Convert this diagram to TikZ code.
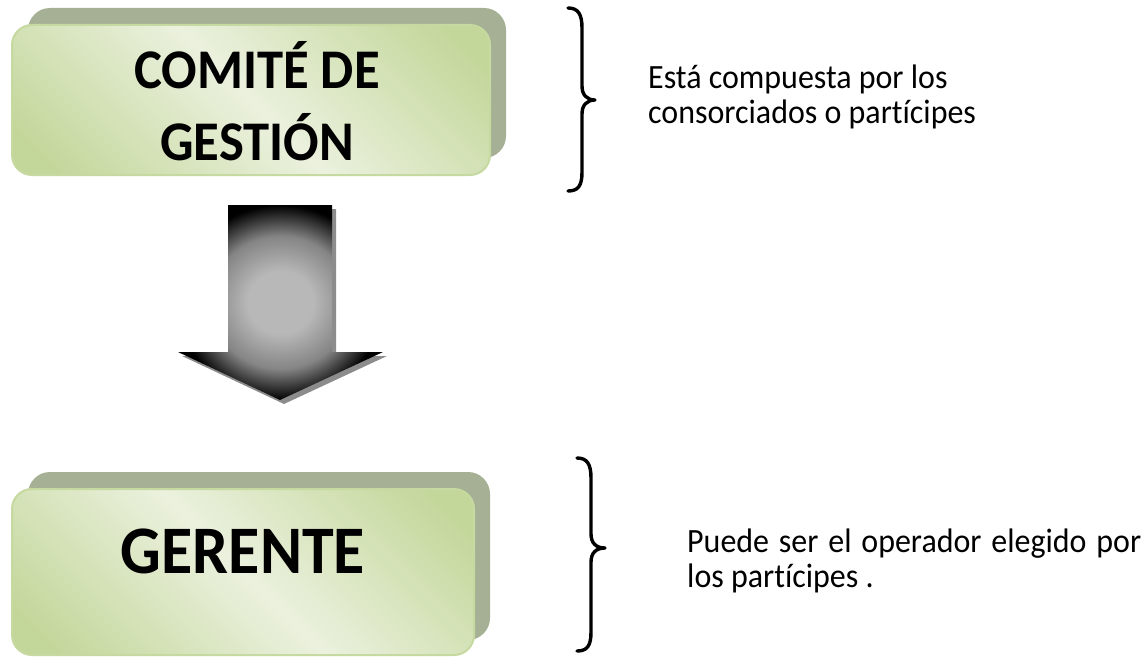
\documentclass[tikz,border=0pt]{standalone}
\usepackage{fontspec}
\setmainfont{Carlito}[RawFeature={-liga}, FakeStretch=0.94]
\definecolor{mossL}{HTML}{EBF1DE}
\definecolor{mossD}{HTML}{C4D79B}
\definecolor{boxShadow}{HTML}{A6B094}
\definecolor{boxEdge}{HTML}{C6D9A0}
\definecolor{arrC}{HTML}{B8B8B8}
\definecolor{arrM}{HTML}{858585}
\definecolor{arrShadow}{HTML}{8C8C8C}
\pgfdeclarehorizontalshading{moss}{100bp}{color(0bp)=(mossD); color(20bp)=(mossD); color(50bp)=(mossL); color(80bp)=(mossD); color(100bp)=(mossD)}
\pgfdeclareradialshading{arrowshade}{\pgfpoint{0bp}{0bp}}{color(0bp)=(arrC); color(8bp)=(arrC); color(17bp)=(arrM); color(25bp)=(black); color(50bp)=(black)}
\tikzset{
  backbox/.style={rectangle, rounded corners=22pt, fill=boxShadow, draw=none, inner sep=0pt},
  frontbox/.style={rectangle, rounded corners=20pt, draw=boxEdge, line width=2pt, shade, shading=moss, shading angle=45, inner sep=0pt},
  title/.style={inner sep=0pt, align=center},
  note/.style={inner sep=0pt, align=left},
  bracepath/.style={line width=3.4pt, line cap=round, line join=round},
}
\begin{document}
\begin{tikzpicture}[x=1pt,y=-1pt]
\useasboundingbox (0,0) rectangle (1147,658);
% top box
\node[backbox, minimum width=478pt, minimum height=150pt] (comiteBack) at (267,83) {};
\node[frontbox, minimum width=478pt, minimum height=150pt] (comite) at (251,100) {};
\node[title, font=\bfseries\fontsize{56}{72}\selectfont, anchor=base] (comiteText) at (257,160) {COMITÉ DE\\GESTIÓN};
% bottom box
\node[backbox, minimum width=462pt, minimum height=168pt] (gerenteBack) at (259,556) {};
\node[frontbox, minimum width=462pt, minimum height=166pt] (gerente) at (243,572) {};
\node[title, font=\bfseries\fontsize{68}{77}\selectfont, anchor=base] (gerenteText) at (243,573) {GERENTE};
% arrow
\fill[arrShadow] (232,209) -- (336,209) -- (336,356) -- (387,356) -- (284,404) -- (182,356) -- (232,356) -- cycle;
\shade[shading=arrowshade] (228,205) -- (332,205) -- (332,352) -- (383,352) -- (280,400) -- (178,352) -- (228,352) -- cycle;
% braces
\draw[bracepath] (568,8) .. controls (578,8) and (582,14) .. (582,28) -- (582,86) .. controls (582,95) and (587,100) .. (595,100) .. controls (587,100) and (582,105) .. (582,114) -- (582,172) .. controls (582,186) and (578,191) .. (568,191);
\draw[bracepath] (577,458) .. controls (587,458) and (591,464) .. (591,478) -- (591,534) .. controls (591,543) and (596,548) .. (605,548) .. controls (596,548) and (591,553) .. (591,562) -- (591,632) .. controls (591,646) and (587,651) .. (577,651);
% notes
\node[note, font=\fontsize{34}{35}\selectfont, anchor=base west] (topNote) at (648,123) {Está compuesta por los\\consorciados o partícipes};
\node[note, font=\fontsize{34}{35}\selectfont, anchor=base west] (bottomNote) at (687,587) {\makebox[454pt][s]{Puede ser el operador elegido por}\\los partícipes .};
\end{tikzpicture}
\end{document}
